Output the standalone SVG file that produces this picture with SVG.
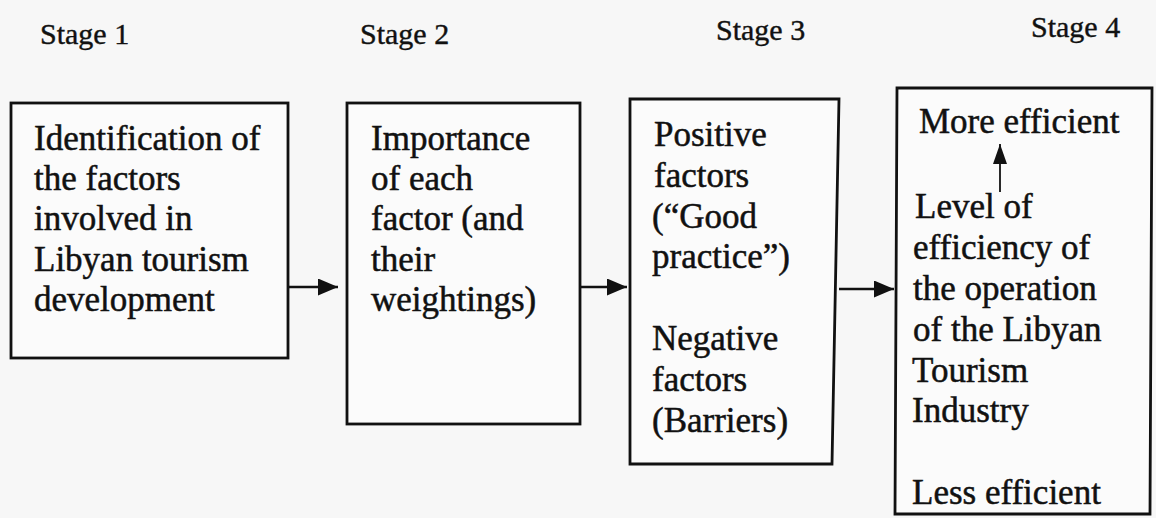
<svg xmlns="http://www.w3.org/2000/svg" width="1156" height="518" viewBox="0 0 1156 518">
  <defs>
    <style>
      .bg { fill: #f7f7f7; }
      .box { fill: #fbfbfb; stroke: #111; stroke-width: 2.8; }
      .stage { font-family: "Liberation Serif", "Times New Roman", "DejaVu Serif", serif; font-size: 30px; fill: #111; stroke: #111; stroke-width: 0.4; }
      .lbl { font-family: "Liberation Serif", "Times New Roman", "DejaVu Serif", serif; font-size: 35px; fill: #111; stroke: #111; stroke-width: 0.5; }
      .conn { stroke: #111; stroke-width: 2.6; fill: none; }
      .thin { stroke: #111; stroke-width: 1.8; fill: none; }
    </style>
    <marker id="ah" markerUnits="userSpaceOnUse" markerWidth="20" markerHeight="17" refX="20" refY="8.5" orient="auto">
      <path d="M0,0 L20,8.5 L0,17 Z" fill="#111"/>
    </marker>
    <marker id="ahs" markerUnits="userSpaceOnUse" markerWidth="20" markerHeight="14" refX="20" refY="7" orient="auto">
      <path d="M0,0 L20,7 L0,14 Z" fill="#111"/>
    </marker>
  </defs>
  <rect class="bg" x="0" y="0" width="1156" height="518"/>

  <g id="stage-labels">
    <text class="stage" x="40" y="44">Stage 1</text>
    <text class="stage" x="360" y="44">Stage 2</text>
    <text class="stage" x="716" y="40">Stage 3</text>
    <text class="stage" x="1031" y="37">Stage 4</text>
  </g>

  <g id="connectors">
    <path class="conn" d="M288,287 L338,287" marker-end="url(#ah)"/>
    <path class="conn" d="M580,287 L627,287" marker-end="url(#ah)"/>
    <path class="conn" d="M839,289 L894,289" marker-end="url(#ah)"/>
  </g>

  <g id="stage1">
    <rect class="box" x="11" y="103" width="277" height="255"/>
    <text class="lbl">
      <tspan x="34" y="150">Identification of</tspan>
      <tspan x="34" y="190">the factors</tspan>
      <tspan x="34" y="230">involved in</tspan>
      <tspan x="34" y="271">Libyan tourism</tspan>
      <tspan x="34" y="311">development</tspan>
    </text>
  </g>

  <g id="stage2">
    <rect class="box" x="347" y="103" width="233" height="321"/>
    <text class="lbl">
      <tspan x="371" y="150">Importance</tspan>
      <tspan x="371" y="190">of each</tspan>
      <tspan x="371" y="230">factor (and</tspan>
      <tspan x="371" y="271">their</tspan>
      <tspan x="371" y="311">weightings)</tspan>
    </text>
  </g>

  <g id="stage3">
    <path class="box" d="M630,99 L839,99 L832,464 L630,464 Z"/>
    <text class="lbl">
      <tspan x="654" y="146">Positive</tspan>
      <tspan x="654" y="187">factors</tspan>
      <tspan x="652" y="228">(“Good</tspan>
      <tspan x="652" y="268">practice”)</tspan>
      <tspan x="652" y="350">Negative</tspan>
      <tspan x="652" y="391">factors</tspan>
      <tspan x="652" y="432">(Barriers)</tspan>
    </text>
  </g>

  <g id="stage4">
    <path class="box" d="M897,88 L1152,88 L1150,514 L895,514 Z"/>
    <text class="lbl">
      <tspan x="919" y="133">More efficient</tspan>
      <tspan x="915" y="218">Level of</tspan>
      <tspan x="913" y="259">efficiency of</tspan>
      <tspan x="913" y="300">the operation</tspan>
      <tspan x="913" y="341">of the Libyan</tspan>
      <tspan x="912" y="382">Tourism</tspan>
      <tspan x="912" y="422">Industry</tspan>
      <tspan x="912" y="504">Less efficient</tspan>
    </text>
    <path class="thin" d="M1000,192 L1000,144" marker-end="url(#ahs)"/>
  </g>
</svg>
